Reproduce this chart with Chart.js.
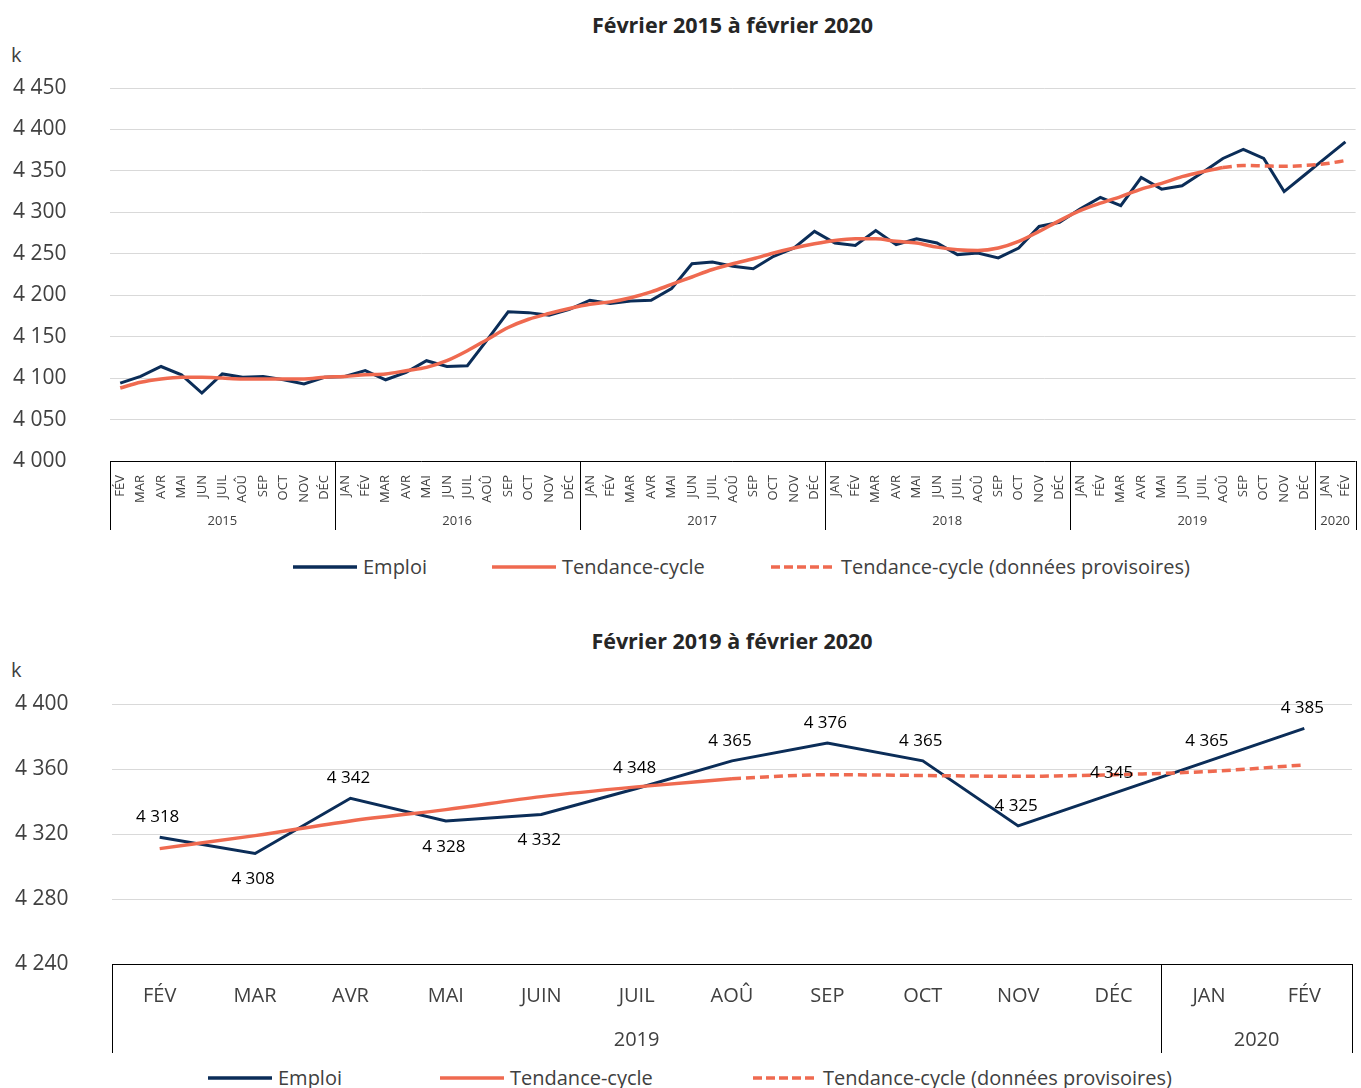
<!DOCTYPE html>
<html lang="fr">
<head>
  <meta charset="UTF-8" />
  <title>Emploi et tendance-cycle</title>
  <script src="https://cdn.jsdelivr.net/npm/chart.js"></script>
  <style>
    body { margin: 0; background: #fff; font-family: "Open Sans", sans-serif; color: #404040; }
    .page { position: relative; width: 1361px; height: 1088px; overflow: hidden; }
    canvas { position: absolute; left: 0; }
    .titre { position: absolute; text-align: center; font-weight: bold; font-size: 21.5px; color: #262626; line-height: 24px; }
    .unite { position: absolute; font-size: 20px; line-height: 24px; }
    .leg { position: absolute; display: flex; align-items: center; font-size: 20px; line-height: 24px; white-space: nowrap; }
    .leg svg { margin-right: 6px; }
  </style>
</head>
<body>
<div class="page">
  <div class="titre" style="left:110px; width:1245px; top:13px;">Février 2015 à février 2020</div>
  <div class="unite" style="left:11px; top:43px;">k</div>
  <canvas id="haut" width="1367" height="540" style="top:0"></canvas>
  <div id="legHaut"></div>

  <div class="titre" style="left:112px; width:1240px; top:629px;">Février 2019 à février 2020</div>
  <div class="unite" style="left:11px; top:658px;">k</div>
  <canvas id="bas" width="1361" height="450" style="top:610px"></canvas>
  <div id="legBas"></div>
</div>

<script>
  // --- données, graphique du haut (fév. 2015 à fév. 2020) ---
  const moisNoms = ['JAN', 'FÉV', 'MAR', 'AVR', 'MAI', 'JUN', 'JUIL', 'AOÛ', 'SEP', 'OCT', 'NOV', 'DÉC'];
  const anneesHaut = ['2015', '2016', '2017', '2018', '2019', '2020'];
  const moisParAnneeHaut = [11, 12, 12, 12, 12, 2];

  const emploiHaut = [
    4094, 4102, 4114, 4104, 4082, 4105, 4101, 4102, 4098, 4093, 4101,
    4102, 4109, 4098, 4107, 4121, 4114, 4115, 4147, 4180, 4179, 4176, 4183,
    4194, 4190, 4193, 4194, 4208, 4238, 4240, 4235, 4232, 4247, 4257, 4277,
    4263, 4260, 4278, 4261, 4268, 4263, 4249, 4251, 4245, 4257, 4283, 4288,
    4304, 4318, 4308, 4342, 4328, 4332, 4348, 4365, 4376, 4365, 4325, 4345,
    4365, 4385
  ];
  // tendance-cycle définitive : fév. 2015 à août 2019
  const tendanceHaut = [
    4088, 4095, 4099, 4101, 4101, 4100, 4099, 4099, 4099, 4099, 4101,
    4102, 4104, 4105, 4109, 4113, 4121, 4133, 4147, 4161, 4171, 4178, 4184,
    4189, 4192, 4197, 4204, 4213, 4222, 4231, 4238, 4244, 4251, 4257, 4262,
    4266, 4268, 4268, 4265, 4263, 4258, 4255, 4254, 4257, 4265, 4277, 4290,
    4302, 4311, 4319, 4328, 4335, 4343, 4349, 4354
  ];
  // tendance-cycle provisoire : août 2019 à fév. 2020
  const tendanceProvHaut = [4354, 4356.5, 4356, 4355.5, 4356.5, 4358.5, 4362.5];

  // --- données, graphique du bas (fév. 2019 à fév. 2020) ---
  const moisBas = ['FÉV', 'MAR', 'AVR', 'MAI', 'JUIN', 'JUIL', 'AOÛ', 'SEP', 'OCT', 'NOV', 'DÉC', 'JAN', 'FÉV'];
  const anneesBas = ['2019', '2020'];
  const moisParAnneeBas = [11, 2];
  const emploiBas = [4318, 4308, 4342, 4328, 4332, 4348, 4365, 4376, 4365, 4325, 4345, 4365, 4385];
  const tendanceBas = [4311, 4319, 4328, 4335, 4343, 4349, 4354];
  const tendanceProvBas = [4354, 4356.5, 4356, 4355.5, 4356.5, 4358.5, 4362.5];
  const cotesEtiquettes = ['h', 'b', 'h', 'b', 'b', 'h', 'h', 'h', 'h', 'h', 'h', 'h', 'h'];

  const BLEU = '#0b2d58';
  const CORAIL = '#ef6a50';
  const GRIS = '#404040';

  Chart.defaults.font.family = '"Open Sans", sans-serif';

  function fmt(v) {
    return Math.round(v).toString().replace(/\B(?=(\d{3})+(?!\d))/g, ' ');
  }

  // étiquettes mois du haut : fév. 2015 -> fév. 2020
  const moisHaut = [];
  anneesHaut.forEach((a, k) => {
    const debut = k === 0 ? 1 : 0;
    for (let m = debut; m < debut + moisParAnneeHaut[k]; m++) moisHaut.push(moisNoms[m]);
  });

  function pad(valeurs, avant, total) {
    const out = new Array(total).fill(null);
    valeurs.forEach((v, i) => { out[avant + i] = v; });
    return out;
  }

  // axe des années sous les mois + cadre
  const axeAnnees = {
    id: 'axeAnnees',
    afterDraw(chart, args, o) {
      const { ctx, chartArea: a, scales: { x } } = chart;
      const w = x.getPixelForValue(1) - x.getPixelForValue(0);
      const bords = [a.left];
      let n = 0;
      o.counts.forEach(c => { n += c; bords.push(x.getPixelForValue(n - 1) + w / 2); });
      ctx.save();
      ctx.strokeStyle = '#000';
      ctx.lineWidth = 1;
      ctx.beginPath();
      ctx.moveTo(a.left, Math.round(a.bottom) + 0.5);
      ctx.lineTo(a.right, Math.round(a.bottom) + 0.5);
      bords.forEach(b => {
        const px = Math.round(b) + 0.5;
        ctx.moveTo(px, a.bottom);
        ctx.lineTo(px, a.bottom + o.depth);
      });
      ctx.stroke();
      ctx.fillStyle = GRIS;
      ctx.font = o.font;
      ctx.textAlign = 'center';
      ctx.textBaseline = 'middle';
      o.labels.forEach((l, k) => ctx.fillText(l, (bords[k] + bords[k + 1]) / 2, a.bottom + o.labelOffset));
      ctx.restore();
    }
  };

  // valeurs sur la courbe Emploi (graphique du bas)
  const etiquettes = {
    id: 'etiquettes',
    afterDatasetsDraw(chart, args, o) {
      if (!o.sides) return;
      const { ctx } = chart;
      const meta = chart.getDatasetMeta(0);
      const data = chart.data.datasets[0].data;
      ctx.save();
      ctx.font = '17px "Open Sans"';
      ctx.fillStyle = '#000';
      ctx.textAlign = 'center';
      ctx.textBaseline = 'middle';
      meta.data.forEach((p, i) => {
        const dy = o.sides[i] === 'b' ? 26 : -20;
        ctx.fillText(fmt(data[i]), p.x - 2, p.y + dy);
      });
      ctx.restore();
    }
  };

  function graphique(id, cfg) {
    const n = cfg.labels.length;
    return new Chart(document.getElementById(id), {
      type: 'line',
      data: {
        labels: cfg.labels,
        datasets: [
          { label: 'Emploi', data: cfg.emploi, borderColor: BLEU, borderWidth: 3, tension: 0, order: 2 },
          { label: 'Tendance-cycle', data: pad(cfg.tendance, 0, n), borderColor: CORAIL, borderWidth: 3.5,
            cubicInterpolationMode: 'monotone', order: 1 },
          { label: 'Tendance-cycle (données provisoires)', data: pad(cfg.prov, n - cfg.prov.length, n),
            borderColor: CORAIL, borderWidth: 3.5, borderDash: [9, 5], cubicInterpolationMode: 'monotone', order: 1 }
        ]
      },
      options: {
        responsive: false,
        animation: false,
        layout: { padding: cfg.padding },
        elements: { point: { radius: 0 } },
        plugins: {
          legend: { display: false },
          tooltip: { enabled: false },
          axeAnnees: cfg.annees,
          etiquettes: { sides: cfg.sides }
        },
        scales: {
          x: {
            offset: true,
            grid: { display: false },
            border: { display: false },
            ticks: cfg.xTicks,
            afterFit: s => { s.height = cfg.xHeight; }
          },
          y: {
            min: cfg.min, max: cfg.max,
            grid: { color: '#d9d9d9', drawTicks: false },
            border: { display: false },
            ticks: { stepSize: cfg.step, crossAlign: 'far', padding: 0, color: GRIS, font: { size: 21 }, callback: fmt },
            afterFit: s => { s.width = cfg.yWidth; }
          }
        }
      },
      plugins: [axeAnnees, etiquettes]
    });
  }

  graphique('haut', {
    labels: moisHaut, emploi: emploiHaut, tendance: tendanceHaut, prov: tendanceProvHaut,
    padding: { left: 13, right: 0, top: 88, bottom: 0 },
    min: 4000, max: 4450, step: 50, yWidth: 97, xHeight: 79,
    xTicks: { autoSkip: false, minRotation: 90, maxRotation: 90, padding: 6, color: GRIS, font: { size: 13 } },
    annees: { labels: anneesHaut, counts: moisParAnneeHaut, depth: 69, labelOffset: 60, font: '13px "Open Sans"' }
  });

  graphique('bas', {
    labels: moisBas, emploi: emploiBas, tendance: tendanceBas, prov: tendanceProvBas,
    padding: { left: 15, right: 9, top: 94, bottom: 0 },
    min: 4240, max: 4400, step: 40, yWidth: 97, xHeight: 96,
    xTicks: { autoSkip: false, minRotation: 0, maxRotation: 0, padding: 12, color: GRIS, font: { size: 20 } },
    annees: { labels: anneesBas, counts: moisParAnneeBas, depth: 89, labelOffset: 76, font: '20px "Open Sans"' },
    sides: cotesEtiquettes
  });

  // légendes
  function legende(id, top, lefts) {
    const items = [
      { t: 'Emploi', dash: '' },
      { t: 'Tendance-cycle', dash: '' },
      { t: 'Tendance-cycle (données provisoires)', dash: '9 4' }
    ];
    const box = document.getElementById(id);
    items.forEach((it, i) => {
      const d = document.createElement('div');
      d.className = 'leg';
      d.style.left = lefts[i] + 'px';
      d.style.top = (top - 12) + 'px';
      const col = i === 0 ? BLEU : CORAIL;
      d.innerHTML = `<svg width="64" height="6"><line x1="0" y1="3" x2="64" y2="3" stroke="${col}" stroke-width="3.5" stroke-dasharray="${it.dash}"/></svg>${it.t}`;
      box.appendChild(d);
    });
  }
  legende('legHaut', 567, [293, 492, 771]);
  legende('legBas', 1078, [208, 440, 753]);
</script>
</body>
</html>
